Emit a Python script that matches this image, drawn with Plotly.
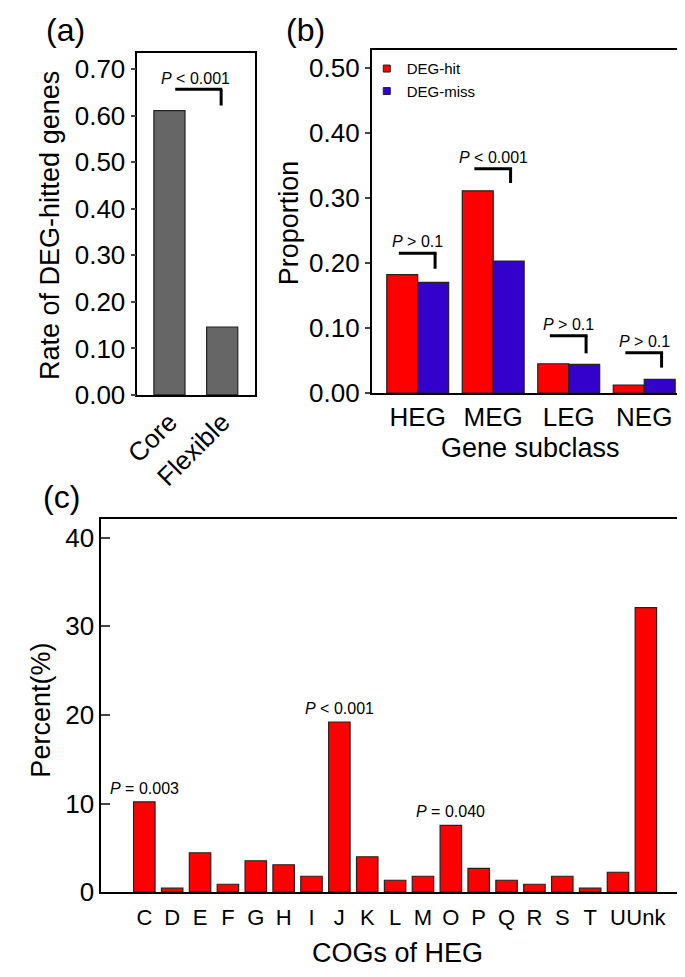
import plotly.graph_objects as go

# ---------------- data ----------------
groups_a = ["Core", "Flexible"]
rate_deg_hit = [0.611, 0.146]

subclasses = ["HEG", "MEG", "LEG", "NEG"]
deg_hit = [0.182, 0.311, 0.045, 0.012]
deg_miss = [0.170, 0.203, 0.044, 0.021]

cogs = ["C", "D", "E", "F", "G", "H", "I", "J", "K", "L", "M", "O", "P", "Q",
        "R", "S", "T", "U", "Unk"]
heg_percent = [10.2, 0.45, 4.45, 0.9, 3.55, 3.1, 1.8, 19.2, 4.0, 1.35, 1.8,
               7.55, 2.7, 1.35, 0.9, 1.8, 0.45, 2.25, 32.1]

p_text_b = ["> 0.1", "< 0.001", "> 0.1", "> 0.1"]
p_c = {"C": "= 0.003", "J": "< 0.001", "O": "= 0.040"}

# ---------------- style ----------------
FONT = "Liberation Sans, Arial, sans-serif"
RED = "#FF0000"
BLUE = "#3300CC"
GRAY = "#666666"
EDGE = "#222222"
W, H = 685, 977

fig = go.Figure()

# panel (a)
fig.add_trace(go.Bar(x=groups_a, y=rate_deg_hit, width=0.59,
                     marker=dict(color=GRAY, line=dict(color=EDGE, width=1.2)),
                     showlegend=False, xaxis="x", yaxis="y"))

# panel (b)
fig.add_trace(go.Bar(x=subclasses, y=deg_hit, width=0.41, offset=-0.41,
                     marker=dict(color=RED, line=dict(color=EDGE, width=1.2)),
                     showlegend=False, xaxis="x2", yaxis="y2"))
fig.add_trace(go.Bar(x=subclasses, y=deg_miss, width=0.41, offset=0.0,
                     marker=dict(color=BLUE, line=dict(color=EDGE, width=1.2)),
                     showlegend=False, xaxis="x2", yaxis="y2"))
# legend entries (small squares)
for name, col in [("DEG-hit", RED), ("DEG-miss", BLUE)]:
    fig.add_trace(go.Scatter(x=[None], y=[None], mode="markers", name=name,
                             marker=dict(symbol="square", size=7, color=col,
                                         line=dict(color=EDGE, width=1)),
                             xaxis="x2", yaxis="y2"))

# panel (c)
fig.add_trace(go.Bar(x=cogs, y=heg_percent, width=0.77,
                     marker=dict(color=RED, line=dict(color=EDGE, width=1.2)),
                     showlegend=False, xaxis="x3", yaxis="y3"))


def px_x(p):
    return p / W


def px_y(p):
    return 1 - p / H


axis_common = dict(showline=True, mirror=True, linecolor="black", linewidth=1.5,
                   showgrid=False, zeroline=False,
                   tickfont=dict(family=FONT, size=26, color="black"))

fig.update_layout(
    width=W, height=H,
    margin=dict(l=0, r=0, t=0, b=0),
    paper_bgcolor="white", plot_bgcolor="white",
    font=dict(family=FONT, color="black"),
    bargap=0.2,
    xaxis=dict(domain=[px_x(117), px_x(238)], anchor="y", range=[-0.61, 1.63],
               ticks="", tickangle=-45, **axis_common),
    yaxis=dict(domain=[px_y(393), px_y(46)], anchor="x", range=[0, 0.734],
               dtick=0.1, tickformat=".2f", ticks="outside", ticklen=5,
               tickwidth=1.5, **axis_common),
    xaxis2=dict(domain=[px_x(357), px_x(684)], anchor="y2", range=[-0.61, 3.62],
                ticks="", tickangle=0, **axis_common),
    yaxis2=dict(domain=[px_y(391), px_y(43)], anchor="x2", range=[0, 0.527],
                dtick=0.1, tickformat=".2f", ticks="outside", ticklen=5,
                tickwidth=1.5, **axis_common),
    xaxis3=dict(domain=[px_x(80), px_x(682)], anchor="y3", range=[-1.55, 19.55],
                ticks="", tickmode="linear", tick0=0, dtick=1, tickangle=0,
                ticklabelstandoff=5,
                **{**axis_common, "tickfont": dict(family=FONT, size=22, color="black")}),
    yaxis3=dict(domain=[px_y(898), px_y(519)], anchor="x3", range=[0, 42.1],
                dtick=10, ticks="inside", ticklen=9, tickwidth=1.5, **axis_common),
    legend=dict(x=px_x(352), y=px_y(45), xanchor="left", yanchor="top",
                bgcolor="rgba(0,0,0,0)", font=dict(family=FONT, size=15),
                tracegroupgap=0, itemwidth=30),
)

ann = []
# panel labels
for txt, x, y in [("(a)", 22, 22), ("(b)", 267, 22), ("(c)", 18, 497)]:
    ann.append(dict(text=txt, x=px_x(x), y=px_y(y), xref="paper", yref="paper",
                    xanchor="left", yanchor="middle", showarrow=False,
                    font=dict(family=FONT, size=32)))
# axis titles
for txt, x, y, ang in [("Rate of DEG-hitted genes", 27, 221, -90),
                       ("Proportion", 272, 218, -90),
                       ("Gene subclass", 520, 447, 0),
                       ("Percent(%)", 18, 713, -90),
                       ("COGs of HEG", 383, 960, 0)]:
    ann.append(dict(text=txt, x=px_x(x), y=px_y(y), xref="paper", yref="paper",
                    xanchor="center", yanchor="middle", textangle=ang,
                    showarrow=False, font=dict(family=FONT, size=27)))

shapes = []
LW = 3


def bracket(xref, yref, xl, xr, yh, yl):
    shapes.append(dict(type="line", xref=xref, yref=yref, x0=xl, x1=xr + 0.02,
                       y0=yh, y1=yh, line=dict(color="black", width=LW)))
    shapes.append(dict(type="line", xref=xref, yref=yref, x0=xr, x1=xr,
                       y0=yh, y1=yl, line=dict(color="black", width=LW)))


# panel (a) bracket
bracket("x", "y", 0.11, 0.98, 0.657, 0.622)
ann.append(dict(text="<i>P</i> < 0.001", x=0.5, y=0.68, xref="x", yref="y",
                showarrow=False, yanchor="middle",
                font=dict(family=FONT, size=16)))

# panel (b) brackets
b_levels = [(0.215, 0.191), (0.345, 0.323), (0.088, 0.061), (0.062, 0.039)]
for i, (txt, (yh, yl)) in enumerate(zip(p_text_b, b_levels)):
    bracket("x2", "y2", i - 0.25, i + 0.23, yh, yl)
    ann.append(dict(text="<i>P</i> " + txt, x=i, y=yh, xref="x2", yref="y2",
                    showarrow=False, yanchor="bottom", yshift=1,
                    font=dict(family=FONT, size=16)))

# panel (c) p-values
for k, txt in p_c.items():
    idx = cogs.index(k)
    ann.append(dict(text="<i>P</i> " + txt, x=idx, y=heg_percent[idx],
                    xref="x3", yref="y3", showarrow=False, yanchor="bottom",
                    yshift=3, font=dict(family=FONT, size=16)))

fig.update_layout(annotations=ann, shapes=shapes)

fig.write_html("out.html")
